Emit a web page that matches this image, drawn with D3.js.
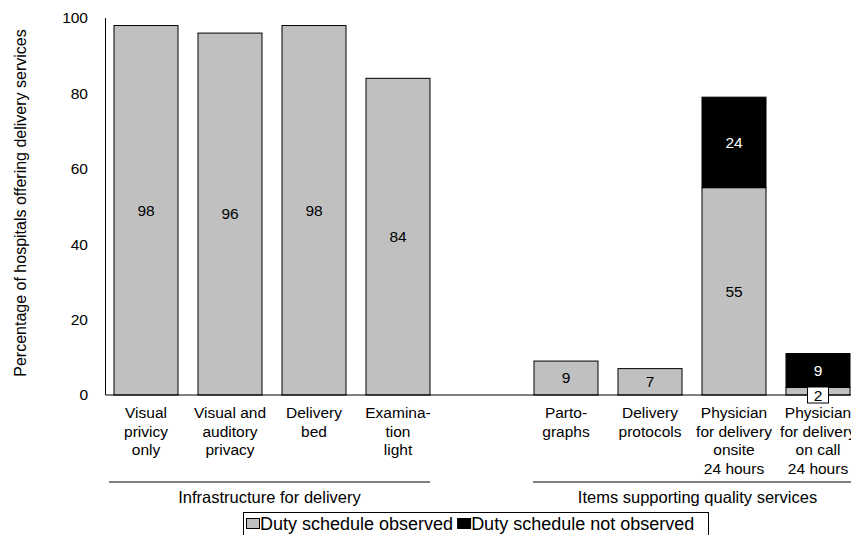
<!DOCTYPE html>
<html><head><meta charset="utf-8">
<script src="https://cdn.jsdelivr.net/npm/d3@7"></script>
<style>html,body{margin:0;padding:0;background:#fff;overflow:hidden}svg{display:block;font-family:"Liberation Sans",Arial,sans-serif}</style>
</head><body><svg id="c" width="851" height="535"></svg>
<script>
const categories = [
  ["Visual","privicy","only"],
  ["Visual and","auditory","privacy"],
  ["Delivery","bed"],
  ["Examina-","tion","light"],
  null,
  ["Parto-","graphs"],
  ["Delivery","protocols"],
  ["Physician","for delivery","onsite","24 hours"],
  ["Physician","for delivery","on call","24 hours"]
];
const observed    = [98, 96, 98, 84, null, 9, 7, 55, 2];
const notObserved = [0, 0, 0, 0, null, 0, 0, 24, 9];
const yTicks = [0, 20, 40, 60, 80, 100];
const groups = [
  {label: "Infrastructure for delivery", from: 0, to: 3},
  {label: "Items supporting quality services", from: 5, to: 8}
];
const legendItems = [
  {label: "Duty schedule observed", color: "#c0c0c0"},
  {label: "Duty schedule not observed", color: "#000000"}
];

const svg = d3.select("#c");
const axisX = 105.5, yBase = 395, yTop = 18;
const idx = categories.map((d,i)=>i);
const x = d3.scaleBand().domain(idx).range([104, 104 + 84*9]).paddingInner(0.238).paddingOuter(0.119);
const y = d3.scaleLinear().domain([0,100]).range([yBase, yTop]);
const FS = 15.5;

// bars
idx.forEach(i => {
  if (observed[i] == null) return;
  const o = observed[i], n = notObserved[i];
  svg.append("rect").attr("x", x(i)).attr("width", x.bandwidth())
    .attr("y", y(o)).attr("height", y(0)-y(o))
    .attr("fill", "#c0c0c0").attr("stroke", "#000").attr("stroke-width", 1);
  if (n > 0) {
    svg.append("rect").attr("x", x(i)).attr("width", x.bandwidth())
      .attr("y", y(o+n)).attr("height", y(o)-y(o+n))
      .attr("fill", "#000").attr("stroke", "#000").attr("stroke-width", 1);
  }
});

// axes lines
svg.append("line").attr("x1", axisX).attr("x2", axisX).attr("y1", y(100)).attr("y2", y(0)).attr("stroke","#000");
svg.append("line").attr("x1", axisX).attr("x2", 851).attr("y1", y(0)).attr("y2", y(0)).attr("stroke","#000");

// value labels
idx.forEach(i => {
  if (observed[i] == null) return;
  const o = observed[i], n = notObserved[i];
  const cx = x(i) + x.bandwidth()/2;
  if (o >= 5) {
    svg.append("text").attr("x", cx).attr("y", y(o/2)).attr("dy","0.35em")
      .attr("text-anchor","middle").attr("font-size",FS).attr("fill","#000").text(o);
  } else {
    const ly = y(0);
    svg.append("rect").attr("x", cx-10.5).attr("y", ly-8).attr("width", 21).attr("height", 16)
      .attr("fill","#fff").attr("stroke","#000").attr("stroke-width",1);
    svg.append("text").attr("x", cx).attr("y", ly+0.5).attr("dy","0.35em")
      .attr("text-anchor","middle").attr("font-size",FS).attr("fill","#000").text(o);
  }
  if (n > 0) {
    svg.append("text").attr("x", cx).attr("y", y(o + n/2)).attr("dy","0.35em")
      .attr("text-anchor","middle").attr("font-size",FS).attr("fill","#fff").text(n);
  }
});

// y tick labels
yTicks.forEach(t => {
  svg.append("text").attr("x", 88).attr("y", y(t)).attr("dy","0.35em")
    .attr("text-anchor","end").attr("font-size",FS).attr("fill","#000").text(t);
});

// y title
svg.append("text").attr("transform", `translate(20,203) rotate(-90)`)
  .attr("text-anchor","middle").attr("dy","0.35em").attr("font-size",16).attr("fill","#000")
  .text("Percentage of hospitals offering delivery services");

// category labels
idx.forEach(i => {
  const lines = categories[i];
  if (!lines) return;
  const cx = x(i) + x.bandwidth()/2;
  lines.forEach((l, k) => {
    svg.append("text").attr("x", cx).attr("y", 413 + k*18.5).attr("dy","0.35em")
      .attr("text-anchor","middle").attr("font-size",FS).attr("fill","#000").text(l);
  });
});

// group lines and labels
groups.forEach((g, gi) => {
  const a = x(g.from) - (gi === 0 ? 5 : 1);
  const b = x(g.to) + x.bandwidth() + (gi === 0 ? 0 : 12);
  svg.append("line").attr("x1", a).attr("x2", Math.min(b, 851)).attr("y1", 482).attr("y2", 482)
    .attr("stroke","#555").attr("stroke-width",1.5);
  svg.append("text").attr("x", (a+b)/2).attr("y", 497).attr("dy","0.35em")
    .attr("text-anchor","middle").attr("font-size",16.5).attr("fill","#000").text(g.label);
});

// legend
const lg = svg.append("g");
lg.append("rect").attr("x", 243.5).attr("y", 512.5).attr("width", 465).attr("height", 30)
  .attr("fill","#fff").attr("stroke","#000");
let lx = 246;
legendItems.forEach(it => {
  lg.append("rect").attr("x", lx+0.5).attr("y", 518.5).attr("width", 13).attr("height", 10)
    .attr("fill", it.color).attr("stroke","#000");
  const t = lg.append("text").attr("x", lx + 14).attr("y", 524).attr("dy","0.35em")
    .attr("font-size",18).attr("fill","#000").text(it.label);
  lx += 14 + t.node().getComputedTextLength() + 4;
});
</script></body></html>
